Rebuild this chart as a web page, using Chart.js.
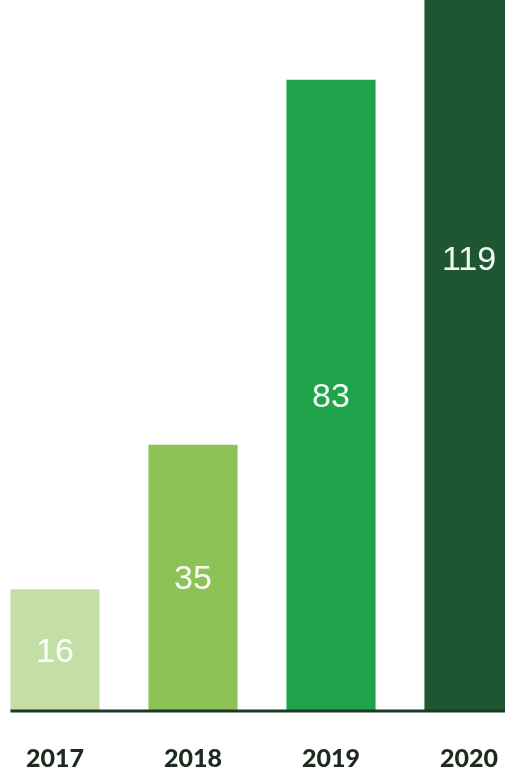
<!DOCTYPE html>
<html>
<head>
<meta charset="utf-8">
<script src="https://cdn.jsdelivr.net/npm/chart.js@4/dist/chart.umd.min.js"></script>
<style>
  html, body { margin: 0; padding: 0; background: #ffffff; overflow: hidden; }
  #wrap { position: absolute; left: -14px; top: 0; width: 552px; height: 806px; }
</style>
</head>
<body>
<div id="wrap"><canvas id="growth"></canvas></div>
<script>
var years = ["2017", "2018", "2019", "2020"];
var counts = [16, 35, 83, 119];
var barColors = ["#c4dfa6", "#8cc256", "#1fa34b", "#1d5631"];

// white count written in the middle of each bar
var valueLabels = {
  id: "valueLabels",
  afterDatasetsDraw: function (chart) {
    var ctx = chart.ctx;
    var y = chart.scales.y;
    var bars = chart.getDatasetMeta(0).data;
    ctx.save();
    ctx.fillStyle = "rgba(255,255,255,0.95)";
    ctx.font = "normal 34px 'Liberation Sans', Arial, sans-serif";
    ctx.textAlign = "center";
    ctx.textBaseline = "middle";
    bars.forEach(function (bar, i) {
      ctx.fillText(String(counts[i]), bar.x, y.getPixelForValue(counts[i] / 2) + 2);
    });
    ctx.restore();
  }
};

// dark base line, starting at the first bar
var baseLine = {
  id: "baseLine",
  afterDatasetsDraw: function (chart) {
    var ctx = chart.ctx;
    var area = chart.chartArea;
    var first = chart.getDatasetMeta(0).data[0];
    ctx.save();
    ctx.strokeStyle = "#1a3a22";
    ctx.lineWidth = 3;
    ctx.beginPath();
    ctx.moveTo(first.x - first.width / 2, area.bottom);
    ctx.lineTo(chart.width, area.bottom);
    ctx.stroke();
    ctx.restore();
  }
};

new Chart(document.getElementById("growth"), {
  type: "bar",
  data: {
    labels: years,
    datasets: [{
      data: counts,
      backgroundColor: barColors,
      borderWidth: 0,
      barPercentage: 0.646,
      categoryPercentage: 1
    }]
  },
  options: {
    responsive: true,
    maintainAspectRatio: false,
    animation: false,
    layout: { padding: 0 },
    plugins: { legend: { display: false }, tooltip: { enabled: false } },
    scales: {
      x: {
        grid: { display: false, drawTicks: false },
        border: { display: false },
        ticks: {
          padding: 35,
          color: "#1c2a20",
          font: { family: "Lato", weight: "900", size: 25, lineHeight: 1 }
        }
      },
      y: {
        display: false,
        min: 0,
        max: 93.5
      }
    }
  },
  plugins: [valueLabels, baseLine]
});
</script>
</body>
</html>
